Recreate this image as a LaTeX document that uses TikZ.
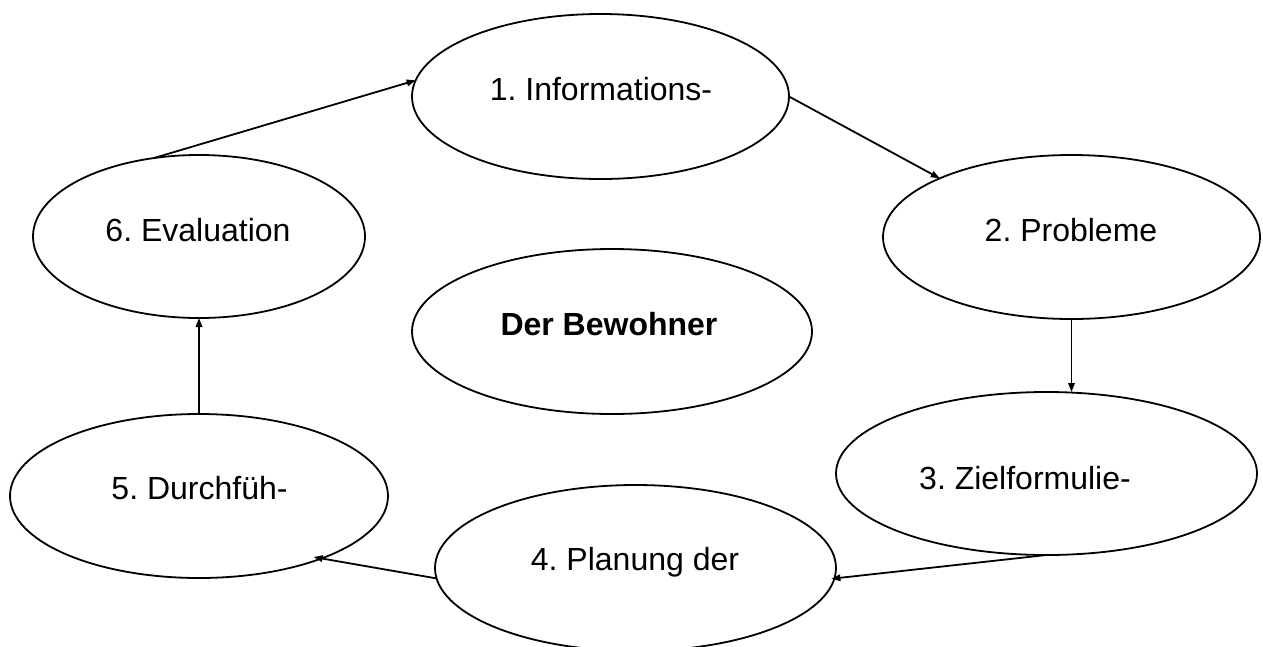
\documentclass[tikz,border=0pt]{standalone}
\usepackage{fontspec}
\setmainfont{Liberation Sans}
\usetikzlibrary{shapes.geometric,arrows.meta}
\tikzset{
  oval/.style={ellipse, draw=black, line width=1.8pt, inner sep=0pt, outer sep=0pt},
  lbl/.style={anchor=base, inner sep=0pt, font=\fontsize{32pt}{38pt}\selectfont\frenchspacing},
  arr/.style={line width=1.8pt, -{Triangle[length=9pt,width=6.5pt]}}
}
\begin{document}
\begin{tikzpicture}[x=1pt,y=-1pt]
\clip (0,0) rectangle (1263,646);
\fill[white] (0,0) rectangle (1263,646);
% ellipses
\node[oval, minimum width=377pt, minimum height=165pt] (e1) at (600.5,96.5) {};
\node[oval, minimum width=377pt, minimum height=164pt] (e2) at (1071.5,237) {};
\node[oval, minimum width=421pt, minimum height=163pt] (e3) at (1046.5,473.5) {};
\node[oval, minimum width=401pt, minimum height=166pt] (e4) at (635.5,568) {};
\node[oval, minimum width=378pt, minimum height=164pt] (e5) at (199,496) {};
\node[oval, minimum width=332pt, minimum height=163pt] (e6) at (199,236.5) {};
\node[oval, minimum width=400pt, minimum height=165pt] (eB) at (612,331.5) {};
% labels
\node[lbl] (t1) at (601,100) {1. Informations-};
\node[lbl] (t2) at (1071,241) {2. Probleme};
\node[lbl] (t3) at (1025,489) {3. Zielformulie-};
\node[lbl] (t4) at (635,570) {4. Planung der};
\node[lbl] (t5) at (199.5,499) {5. Durchfüh-};
\node[lbl] (t6) at (198,241) {6. Evaluation};
\node[lbl, font=\fontsize{32pt}{38pt}\selectfont\bfseries] (tB) at (609,335) {Der Bewohner};
% connectors
\draw[arr] (e6.120.9) -- (e1.175.5);
\draw[arr] (e1.east) -- (e2.156.3);
\draw[arr] (e2.south) -- (e2.south |- e3.north);
\draw[arr, shorten >=-3pt] (e3.south) -- (e4.-3.5);
\draw[arr, shorten >=-8pt] (e4.-177.1) -- (e5.-27.8);
\draw[arr] (e5.north) -- (e6.south);
\end{tikzpicture}
\end{document}
